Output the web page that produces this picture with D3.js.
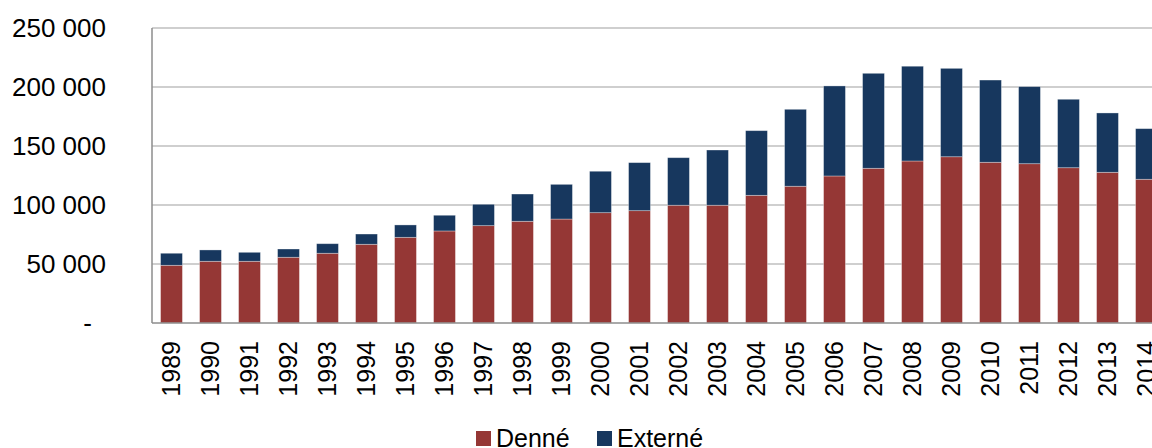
<!DOCTYPE html>
<html>
<head>
<meta charset="utf-8">
<script src="https://cdn.jsdelivr.net/npm/d3@7"></script>
<style>
  body { margin: 0; background: #fff; }
  svg { display: block; font-family: "Liberation Sans", Arial, sans-serif; }
  .axis path, .axis line { stroke: none; }
</style>
</head>
<body>
<svg class="chart" width="1152" height="448"></svg>
<script>
var years = ["1989","1990","1991","1992","1993","1994","1995","1996","1997","1998","1999","2000","2001",
             "2002","2003","2004","2005","2006","2007","2008","2009","2010","2011","2012","2013","2014"];
var denne = [48900, 52300, 52300, 55700, 59100, 66700, 72600, 78000, 82500, 86200, 88100, 93500, 95200,
             99800, 99800, 108200, 115900, 124600, 131100, 137300, 140900, 136200, 135000, 131600, 127700, 121800];
var externe = [10200, 9600, 7600, 7000, 8100, 8700, 10500, 13300, 18100, 23100, 29400, 35100, 40700,
               40300, 46800, 54800, 65200, 76300, 80500, 80300, 74900, 69700, 65300, 58000, 50300, 42900];
var yTicks = [0, 50000, 100000, 150000, 200000, 250000];
var seriesNames = ["Denné", "Externé"];
var colors = ["#953735", "#17375E"];

var svg = d3.select(".chart"),
    margin = {top: 28, left: 152, bottom: 125},
    width = 1014,
    height = +svg.attr("height") - margin.top - margin.bottom;

var rows = years.map(function(y, i) { return {year: y, "Denné": denne[i], "Externé": externe[i]}; });
var stack = d3.stack().keys(seriesNames)(rows);

var x = d3.scaleBand().domain(years).range([0, width]).paddingInner(0.44).paddingOuter(0.22);
var y = d3.scaleLinear().domain([0, 250000]).range([height, 0]);

var g = svg.append("g").attr("transform", "translate(" + margin.left + "," + margin.top + ")");

// gridlines
g.selectAll(".grid")
    .data(yTicks.slice(1))
  .enter().append("line")
    .attr("x1", 0).attr("x2", width)
    .attr("y1", function(d) { return y(d); })
    .attr("y2", function(d) { return y(d); })
    .attr("stroke", "#bfbfbf").attr("stroke-width", 1.5);

// bars
g.selectAll(".series")
    .data(stack)
  .enter().append("g")
    .attr("fill", function(d, i) { return colors[i]; })
  .selectAll("rect")
    .data(function(d) { return d; })
  .enter().append("rect")
    .attr("x", function(d) { return x(d.data.year); })
    .attr("width", x.bandwidth())
    .attr("y", function(d) { return y(d[1]); })
    .attr("height", function(d) { return y(d[0]) - y(d[1]); })
    .attr("stroke", "#ffffff").attr("stroke-opacity", 0.4).attr("stroke-width", 0.8);

// axis lines
g.append("line").attr("x1", 0).attr("x2", 0).attr("y1", 0).attr("y2", height)
    .attr("stroke", "#8c8c8c").attr("stroke-width", 1.5);
g.append("line").attr("x1", 0).attr("x2", width).attr("y1", height).attr("y2", height)
    .attr("stroke", "#8c8c8c").attr("stroke-width", 1.5);

// y axis
var yAxis = g.append("g")
    .attr("class", "axis")
    .call(d3.axisLeft(y).tickValues(yTicks).tickSize(0).tickPadding(46)
      .tickFormat(function(d) { return d == 0 ? "-" : d3.format(",")(d).replace(/,/g, " "); }));
yAxis.selectAll("text").style("font-size", "26px").attr("fill", "#000");
yAxis.selectAll("text").filter(function(d) { return d == 0; }).attr("dx", "-14px");

// x axis
var xAxis = g.append("g")
    .attr("class", "axis")
    .attr("transform", "translate(0," + height + ")")
    .call(d3.axisBottom(x).tickSize(0));
xAxis.selectAll("text")
    .style("font-size", "25px").attr("fill", "#000")
    .attr("transform", "rotate(-90)")
    .attr("text-anchor", "end")
    .attr("x", -18).attr("y", 0).attr("dy", "0.35em");

// legend
var legend = svg.append("g").attr("transform", "translate(476,431)");
var items = legend.selectAll("g")
    .data(seriesNames)
  .enter().append("g")
    .attr("transform", function(d, i) { return "translate(" + (i * 121) + ",0)"; });
items.append("rect").attr("width", 15).attr("height", 15)
    .attr("fill", function(d, i) { return colors[i]; });
items.append("text").attr("x", 20).attr("y", 15.5)
    .style("font-size", "25px").attr("fill", "#000")
    .text(function(d) { return d; });
</script>
</body>
</html>
